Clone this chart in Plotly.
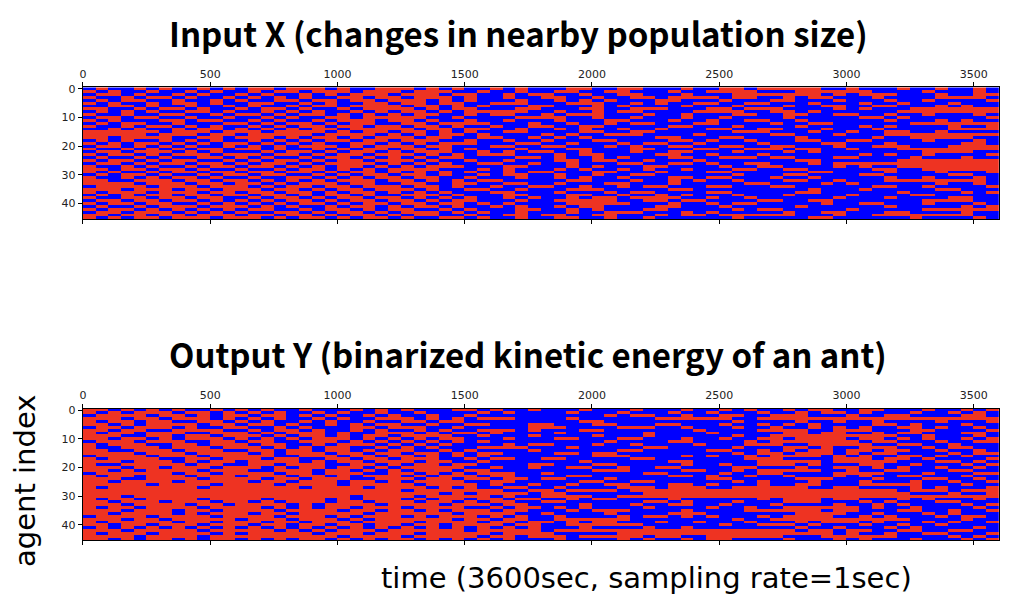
import numpy as np
import plotly.graph_objects as go
from plotly.subplots import make_subplots

# binarized activity per agent, one character = one 50 sec window (1 = red, 0 = blue)
input_x_rows = [
    "010010100101 011011101001 110101001010 001100110001 001101111100 100010010010",
    "101001001010 010110111011 101110010010 011001100010 011110001111 110000100010",
    "011010010100 101001010111 011101100101 100100110001 000111111101 011100010011",
    "100101101001 010101001101 101110100100 110010011011 110110010110 001000011110",
    "010110010010 100110110110 111010100010 010101000110 001000110001 000100100001",
    "101001011010 011001010011 011011001110 001110010100 110011000100 010010001000",
    "001101001001 010010110111 101101010001 100010100001 000100010011 001100010100",
    "110010110100 101101001011 110101100011 000110011100 011011100001 010001111111",
    "010101001101 001010100101 011010111110 010010110000 111100110100 000011111111",
    "100100110010 110101101010 101100101100 101110001001 000110011001 100100100010",
    "011011001001 001010011011 111001000011 110010010001 001000010000 011010000001",
    "101000110110 010100101110 110100100100 010001100010 010011001000 000100010100",
    "010110010001 101011010110 011011110001 001001011000 110000100110 000001111111",
    "100101101010 010101101101 101101001001 100110000011 000100001000 010100001001",
    "001010010110 101010110111 110110110010 010100100100 011001100010 001000001111",
    "111111011101 110111101011 011010100110 000110011000 000111000100 100110010000",
    "111110111011 011111011110 101011010000 101001110000 100000110001 000111111111",
    "110111100110 111010110101 110110011001 010100000110 001100001000 001001111100",
    "010100101010 010101011011 011100100100 100011000011 010010001100 110000100010",
    "101011010101 101010100110 101011100011 001000101100 100001000011 000100000110",
    "011010101001 010101110101 110110001100 110001010011 001100110001 001110001111",
    "100101010110 110100101011 011010100010 001100011000 110011101100 100011111111",
    "011011101010 001011010110 101110010101 100100010011 000100010100 000000111100",
    "101101011101 110110101101 110101011100 010110000110 010001000000 010100100001",
    "010010100110 101001011010 101011000011 010010100011 001110110001 100001000100",
    "101101011001 010110101101 110100100100 011011001000 100000001100 000011111111",
    "011010110110 101101011110 101010011001 001000110011 010011000101 111111111111",
    "100101001011 011010101101 010111000110 001010001100 001001100001 010011111111",
    "110110110100 100101101010 111100010100 010100101001 000110011000 001100111111",
    "101001011011 011011010110 101010100101 100011000100 011000000110 000100010001",
    "010110100101 101100101011 011010010110 010010011000 000100011000 011000001100",
    "100101011010 010011010101 101100100010 010100100011 011000100100 000100100010",
    "110011101101 101010101110 110101011000 001100010010 100100011001 000111111110",
    "111101110110 110101110110 011001100110 010001100010 000011000010 100000010010",
    "011110111011 101011011011 101101001001 100100101100 011000110000 001100100001",
    "111011101101 110110101101 110100110010 001110000011 000000000100 010000011000",
    "101110111011 011011010110 101010001100 010001011000 011000001100 000010000101",
    "010101101101 101101011010 011101000110 001100100101 000100010000 100001100000",
    "100110110110 010110101101 101010100101 001011011110 010010000001 000100001100",
    "011011011010 101011010110 110101100010 011111001101 100001100110 000000111100",
    "101101100101 010101101011 011011010100 001111100010 010110000010 011000100010",
    "010010111011 101010010110 101101001010 010110000110 001000001000 000100000101",
    "101101010101 011001011010 110010100011 001010001100 000101100000 100000111111",
    "011011101010 100110101101 011101010010 001001110001 010000010011 000110000100",
    "110110110111 011011010110 101100100110 110011000101 101111110001 001111111100",
    "101011011101 110101101011 010011010010 011001001000 000100000110 000001000010",
]

output_y_rows = [
    "110101010010 101001000101 010001101001 000100010001 001010010110 011000100101",
    "101011101101 010100101001 001000010100 001000100010 010001001011 010001001010",
    "011110110101 101101010010 100100100000 000001011001 001100111000 100110000110",
    "111011011101 010100101001 110101011100 001000000111 111001111111 111111111111",
    "101101100110 101001010010 011011000000 000110000000 000100001001 001000010001",
    "110101111011 011010010101 100100110001 100011000110 001001010100 001101000100",
    "011011101001 100101000110 111001000001 110000111001 000100100101 010011010010",
    "110110011110 010110100101 001010011101 000110000000 100001111001 110001100001",
    "101101110011 101011101001 110101101000 010000001000 010000011011 001011000110",
    "111001101101 110101101011 011110010001 000010001000 000100111111 111100100010",
    "110110101110 101010111010 101011000100 011000110001 001001101111 011010100101",
    "011101110011 011001110101 010101010000 000001000011 000010111111 101100010011",
    "101110011011 101100101110 101010000101 100010010000 100011100111 110011001000",
    "100111011101 110101011001 010100011110 001000001100 000100011010 011100101100",
    "110011101110 011011011010 110010100001 000000110000 011001010110 110110010010",
    "111101110111 101011101101 101101011000 011011000000 000101101110 101100001011",
    "011110111011 111001110110 110101010000 000011100001 010010111101 010011010100",
    "101111001101 110110011011 011100101100 110000011000 000011100001 110110100001",
    "111011101011 011110101101 110110010000 000100000011 000001111101 111100011010",
    "100111110110 011011100110 101101100001 100011000001 001001110100 011001000101",
    "111011011101 110101101101 011111001001 001100100110 000110001001 101010010010",
    "110101111011 100111011010 101110110000 000011100001 100101111100 100110001100",
    "011111101101 111011011100 110101011100 100000001100 001001100001 111000100011",
    "101101110111 011101101011 101011101100 001100000011 010010010001 010011000100",
    "111001111011 110110111001 110110110110 110001000000 011000001110 001000110010",
    "110111101111 101101110110 101111001100 000110011000 000101000100 010001001001",
    "111110111101 111011110111 110111101001 001001100011 010001001100 011111000100",
    "101111111011 111110111101 111010100110 010000111011 100111111001 100001010001",
    "111111111111 111111111111 101111111001 101111011111 111111111111 111101110111",
    "111111111111 111111111111 111101011110 110000001111 111111111111 111110001001",
    "111011111111 111111111011 110111110100 111100111111 111111111111 111111111111",
    "101101111011 110111101011 101011011011 001011000010 000001011101 100010100010",
    "110111011101 101011101101 110110101100 110000001101 000100011100 010100011000",
    "111011110110 111101011110 111101110110 000100010011 001000100001 001010000101",
    "101101111011 110101011011 101111001011 010100001000 010010011111 101001000010",
    "111011101101 111011110110 110101110110 001011100001 000011111101 100011001001",
    "110111101011 101101111101 111110111100 100001000011 100000001111 001000101000",
    "011110111101 111011101011 101011101010 010000101101 010001011110 010100010110",
    "111011011111 011101110101 111110110110 011111100000 000100111111 111110000100",
    "101111101101 110110111011 110111101101 101011000100 100010001011 101000101001",
    "110110111011 101101101101 101101111011 001111110000 001001110100 010010010000",
    "010101010101 010101010101 010101010101 000100001001 000000001001 000101000010",
    "111011111011 111010101110 111111011111 011111111111 111111110110 110011001100",
    "101110111101 011111011101 110111110111 100000111111 111111111110 100100110001",
    "111101111011 111111110111 101111101101 110111110110 011111100011 111100001010",
    "110101101011 010101101010 110101010100 010000101001 011000010001 010001000101",
]

window_sec = 50
x_ticks = [0, 500, 1000, 1500, 2000, 2500, 3000, 3500]
y_ticks = [0, 10, 20, 30, 40]

# the page body has an 8 px margin, so the figure is drawn 8 px in
W, H, OFF = 993, 589, 8


def px(x):
    return (x - OFF) / W


def py(y):
    return 1 - (y - OFF) / H


def to_matrix(rows):
    return np.array([[int(c) for c in r.replace(" ", "")] for r in rows])


zx = to_matrix(input_x_rows)
zy = to_matrix(output_y_rows)

fig = make_subplots(rows=2, cols=1)

colorscale = [[0, "#0000ff"], [0.5, "#0000ff"], [0.5, "#ee3322"], [1, "#ee3322"]]
for i, z in enumerate([zx, zy]):
    fig.add_trace(
        go.Heatmap(
            z=z,
            x0=window_sec / 2 - 0.5,
            dx=window_sec,
            y0=0,
            dy=1,
            zmin=0,
            zmax=1,
            colorscale=colorscale,
            showscale=False,
        ),
        row=i + 1, col=1
    )

x_dom = [px(80), px(999)]
fig.update_layout(
    width=W,
    height=H,
    margin=dict(l=0, r=0, t=0, b=0),
    paper_bgcolor="white",
    plot_bgcolor="white",
    showlegend=False,
    font=dict(family="DejaVu Sans", size=11, color="#222"),
    xaxis=dict(domain=x_dom, anchor="y"),
    xaxis2=dict(domain=x_dom, anchor="y2"),
    yaxis=dict(domain=[py(216), py(83)], anchor="x"),
    yaxis2=dict(domain=[py(540), py(407)], anchor="x2"),
)

fig.update_xaxes(
    range=[-0.5, 3599.5], side="top", tickvals=x_ticks, ticks="outside",
    ticklen=4, tickcolor="black", showline=True, linecolor="black",
    linewidth=1, mirror="ticks", showgrid=False, zeroline=False,
)
fig.update_yaxes(
    range=[45.5, -0.5], tickvals=y_ticks, ticks="outside", ticklen=4,
    tickcolor="black", showline=True, linecolor="black", linewidth=1,
    mirror=True, showgrid=False, zeroline=False,
)

title_font = dict(family="Noto Sans CJK JP", size=33, color="black")
label_font = dict(family="DejaVu Sans", size=29, color="black")
fig.add_annotation(
    text="<b>Input X (changes in nearby population size)</b>",
    x=px(517), y=py(28), font=title_font,
)
fig.add_annotation(
    text="<b>Output Y (binarized kinetic energy of an ant)</b>",
    x=px(527), y=py(352), font=title_font,
)
fig.add_annotation(
    text="agent index", textangle=-90,
    x=px(22), y=py(480), font=label_font,
)
fig.add_annotation(
    text="time (3600sec, sampling rate=1sec)",
    x=px(645), y=py(578), font=label_font,
)
fig.update_annotations(
    xref="paper", yref="paper", xanchor="center", yanchor="middle",
    showarrow=False,
)

fig.write_html("out.html")
